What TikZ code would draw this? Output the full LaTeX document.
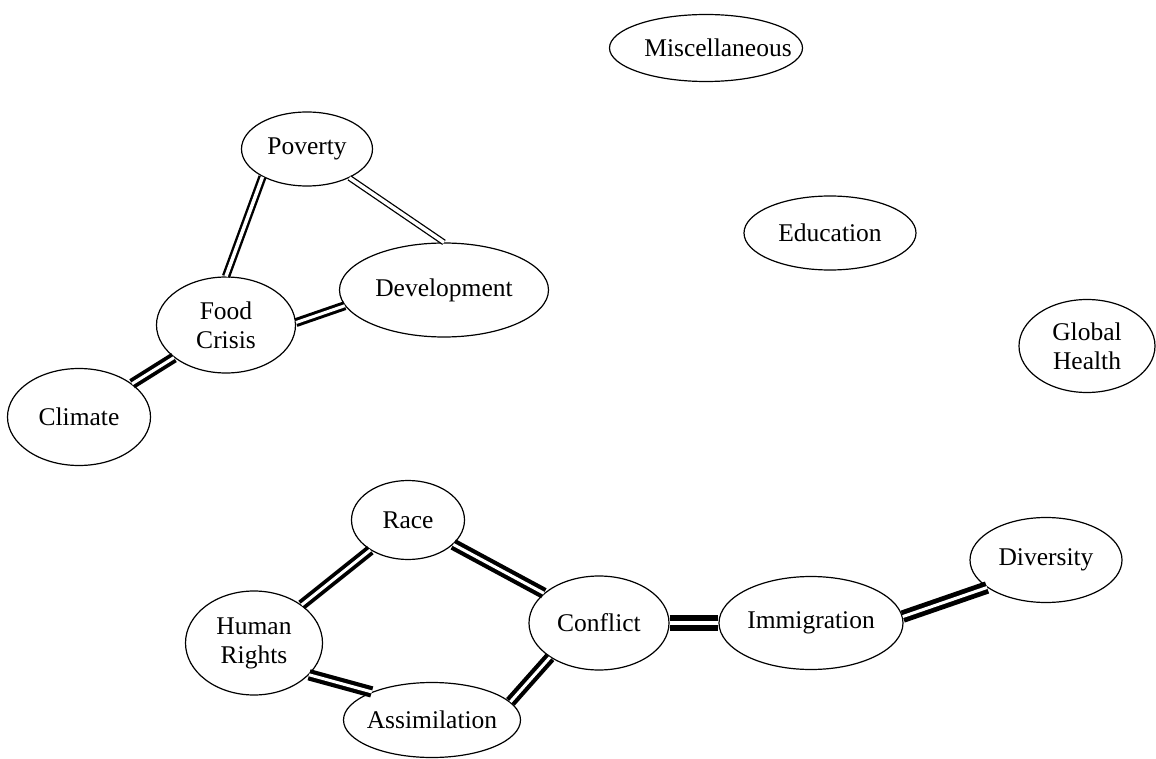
\documentclass[tikz,border=0pt]{standalone}
\usepackage{fontspec}
\setmainfont{Liberation Serif}
\usetikzlibrary{shapes.geometric}
\tikzset{
  topic/.style = {draw, ellipse, line width=1.2pt, fill=white, align=center,
                  inner xsep=-20pt, inner ysep=0pt, font=\fontsize{25.5}{29}\selectfont},
  tie/.style   = {draw=black, double=white},
}

\begin{document}
\begin{tikzpicture}[x=1pt, y=-1pt]
\useasboundingbox (0,0) rectangle (1156,759);

% topics
\node[topic, minimum width=193pt, minimum height=67pt] (misc) at (706,48) {\hspace*{24pt}Miscellaneous};
\node[topic, minimum width=131pt, minimum height=74pt] (pov) at (307,149) {Poverty};
\node[topic, minimum width=172pt, minimum height=74pt] (edu) at (830,233) {Education};
\node[topic, minimum width=209pt, minimum height=94pt] (dev) at (444,290) {Development};
\node[topic, minimum width=139pt, minimum height=96pt] (food) at (226,325) {Food\\Crisis};
\node[topic, minimum width=136pt, minimum height=93pt] (health) at (1087,346) {Global\\Health};
\node[topic, minimum width=143pt, minimum height=97pt] (clim) at (79,417) {Climate};
\node[topic, minimum width=113pt, minimum height=79pt] (race) at (408,520) {Race};
\node[topic, minimum width=152pt, minimum height=85pt] (div) at (1046,560) {Diversity};
\node[topic, minimum width=137pt, minimum height=104pt] (hr) at (254,643) {Human\\Rights};
\node[topic, minimum width=140pt, minimum height=94pt] (conf) at (599,623) {Conflict};
\node[topic, minimum width=184pt, minimum height=93pt] (imm) at (811,623) {Immigration};
\node[topic, minimum width=177pt, minimum height=75pt] (ass) at (432,720) {Assimilation};

% links: from/to/band width/gap
\foreach \a/\b/\w/\g in {pov/dev.north/1.3/3.5, pov.212/food.north/2.4/3.5,
    food.2/dev.189/3/3, food/clim/3.8/3, race/hr/3.8/3, race/conf/4.2/3,
    hr.-30/ass.155/4.2/3, ass.13/conf.215/4.2/3, conf/imm/5.8/4, imm.4/div.205/4.8/3}
  \draw[tie, line width=\w pt, double distance=\g pt] (\a) -- (\b);

\end{tikzpicture}
\end{document}
